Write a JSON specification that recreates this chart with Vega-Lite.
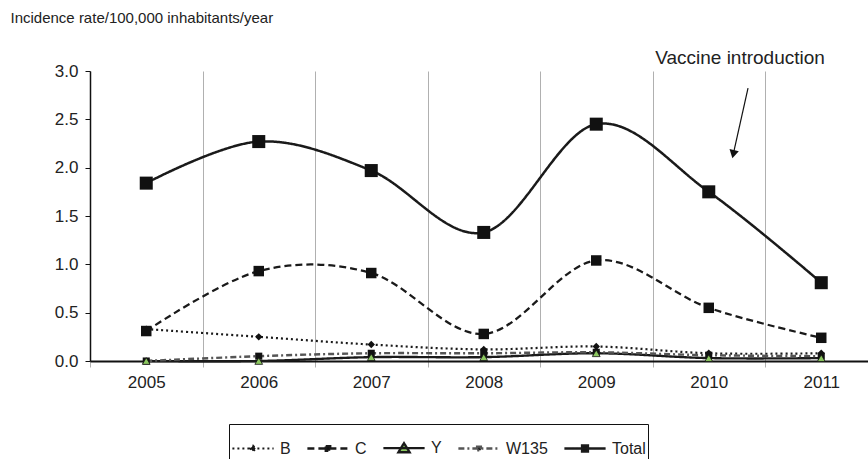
{
  "$schema": "https://vega.github.io/schema/vega-lite/v6.json",
  "width": 787.5,
  "height": 290,
  "autosize": {"type": "none"},
  "padding": {"left": 90, "top": 71, "right": 0, "bottom": 98},
  "background": "white",
  "config": {
    "view": {"stroke": null},
    "font": "Liberation Sans",
    "text": {"font": "Liberation Sans"}
  },
  "layer": [
    {
      "data": {
        "values": [
          {"year": "2005", "series": "B", "value": 0.33},
          {"year": "2006", "series": "B", "value": 0.25},
          {"year": "2007", "series": "B", "value": 0.17},
          {"year": "2008", "series": "B", "value": 0.12},
          {"year": "2009", "series": "B", "value": 0.15},
          {"year": "2010", "series": "B", "value": 0.08},
          {"year": "2011", "series": "B", "value": 0.08},
          {"year": "2005", "series": "C", "value": 0.31},
          {"year": "2006", "series": "C", "value": 0.93},
          {"year": "2007", "series": "C", "value": 0.91},
          {"year": "2008", "series": "C", "value": 0.28},
          {"year": "2009", "series": "C", "value": 1.04},
          {"year": "2010", "series": "C", "value": 0.55},
          {"year": "2011", "series": "C", "value": 0.24},
          {"year": "2005", "series": "Y", "value": 0.0},
          {"year": "2006", "series": "Y", "value": 0.0},
          {"year": "2007", "series": "Y", "value": 0.04},
          {"year": "2008", "series": "Y", "value": 0.04},
          {"year": "2009", "series": "Y", "value": 0.08},
          {"year": "2010", "series": "Y", "value": 0.03},
          {"year": "2011", "series": "Y", "value": 0.03},
          {"year": "2005", "series": "W135", "value": 0.0},
          {"year": "2006", "series": "W135", "value": 0.05},
          {"year": "2007", "series": "W135", "value": 0.08},
          {"year": "2008", "series": "W135", "value": 0.08},
          {"year": "2009", "series": "W135", "value": 0.09},
          {"year": "2010", "series": "W135", "value": 0.06},
          {"year": "2011", "series": "W135", "value": 0.05},
          {"year": "2005", "series": "Total", "value": 1.84},
          {"year": "2006", "series": "Total", "value": 2.27},
          {"year": "2007", "series": "Total", "value": 1.97},
          {"year": "2008", "series": "Total", "value": 1.33},
          {"year": "2009", "series": "Total", "value": 2.45},
          {"year": "2010", "series": "Total", "value": 1.75},
          {"year": "2011", "series": "Total", "value": 0.81}
        ]
      },
      "encoding": {
        "x": {
          "field": "year",
          "type": "ordinal",
          "scale": {"type": "band", "paddingInner": 0, "paddingOuter": 0},
          "axis": {
            "title": null,
            "labelAngle": 0,
            "tickBand": "extent",
            "grid": true,
            "gridColor": "#b0b0b0",
            "gridWidth": 1,
            "domainColor": "#111",
            "domainWidth": 2,
            "tickColor": "#b0b0b0",
            "tickSize": 6,
            "labelPadding": 7,
            "labelFontSize": 17,
            "labelColor": "#222",
            "labelFont": "Liberation Sans"
          }
        },
        "y": {
          "field": "value",
          "type": "quantitative",
          "scale": {"domain": [0, 3], "nice": false},
          "axis": {
            "values": [0, 0.5, 1, 1.5, 2, 2.5, 3],
            "format": ".1f",
            "grid": false,
            "domainColor": "#111",
            "domainWidth": 1.5,
            "tickColor": "#111",
            "tickSize": 5,
            "labelPadding": 7,
            "labelFontSize": 17,
            "labelColor": "#222",
            "labelFont": "Liberation Sans",
            "title": "Incidence rate/100,000 inhabitants/year",
            "titleAngle": 0,
            "titleAlign": "left",
            "titleBaseline": "alphabetic",
            "titleX": -80,
            "titleY": -49,
            "titleFontSize": 15,
            "titleFontWeight": "normal",
            "titleColor": "#222",
            "titleFont": "Liberation Sans"
          }
        }
      },
      "layer": [
        {
          "mark": {"type": "line", "interpolate": "cardinal"},
          "encoding": {
            "stroke": {
              "field": "series",
              "type": "nominal",
              "scale": {"domain": ["B", "C", "Y", "W135", "Total"], "range": ["#1a1a1a", "#1a1a1a", "#1a1a1a", "#555555", "#1a1a1a"]},
              "legend": {
                "title": null,
                "orient": "none",
                "direction": "horizontal",
                "legendX": 139,
                "legendY": 353,
                "symbolType": "stroke",
                "symbolSize": 1700,
                "labelFontSize": 16,
                "labelFont": "Liberation Sans",
                "labelColor": "#222",
                "labelOffset": 5,
                "columnPadding": 11,
                "padding": 2,
                "strokeColor": "#111",
                "fillColor": "white",
                "encode": {
                  "symbols": {
                    "update": {
                      "shape": {"signal": "datum.value === 'B' ? 'M-1,0H1M0,-0.13L0.13,0L0,0.13L-0.13,0Z' : datum.value === 'Y' ? 'M-1,0H1M0,-0.24L0.27,0.2H-0.27Z' : datum.value === 'W135' ? 'M-1,0H1M-0.09,-0.09H0.09V0.09H-0.09Z' : datum.value === 'C' ? 'M-1,0H1M-0.11,-0.11H0.11V0.11H-0.11Z' : 'M-1,0H1M-0.14,-0.14H0.14V0.14H-0.14Z'"},
                      "fill": {"signal": "datum.value === 'Y' ? '#8cc860' : '#111111'"},
                      "fillOpacity": {"value": 1}
                    }
                  }
                }
              }
            },
            "strokeDash": {
              "field": "series",
              "type": "nominal",
              "scale": {"domain": ["B", "C", "Y", "W135", "Total"], "range": [[2, 3], [7, 4], [1, 0], [6, 3, 2, 3], [1, 0]]}
            },
            "strokeWidth": {
              "field": "series",
              "type": "nominal",
              "scale": {"domain": ["B", "C", "Y", "W135", "Total"], "range": [2.2, 2.5, 1.2, 1, 3.2]}
            }
          }
        },
        {
          "transform": [{"filter": "datum.series === 'B'"}],
          "mark": {"type": "point", "shape": "diamond", "filled": true, "opacity": 1, "color": "#111", "size": 55}
        },
        {
          "transform": [{"filter": "datum.series === 'C'"}],
          "mark": {"type": "point", "shape": "square", "filled": true, "opacity": 1, "color": "#111", "size": 110}
        },
        {
          "transform": [{"filter": "datum.series === 'W135'"}],
          "mark": {"type": "point", "shape": "square", "filled": true, "opacity": 1, "color": "#111", "size": 50}
        },
        {
          "transform": [{"filter": "datum.series === 'Y'"}],
          "mark": {"type": "point", "shape": "triangle-up", "filled": true, "opacity": 1, "fill": "#8cc860", "stroke": "#111", "strokeWidth": 0.8, "size": 60}
        },
        {
          "transform": [{"filter": "datum.series === 'Total'"}],
          "mark": {"type": "point", "shape": "square", "filled": true, "opacity": 1, "color": "#111", "size": 170}
        }
      ]
    },
    {
      "layer": [
        {
          "data": {"values": [{"x": 5.849, "y": 2.824, "x2": 5.718, "y2": 2.14}]},
          "mark": {"type": "rule", "color": "#111", "strokeWidth": 1.2},
          "encoding": {
            "x": {"field": "x", "type": "quantitative", "scale": {"domain": [0, 7], "nice": false, "zero": false}, "axis": null},
            "y": {"field": "y", "type": "quantitative", "scale": {"domain": [0, 3], "nice": false}, "axis": null},
            "x2": {"field": "x2"},
            "y2": {"field": "y2"}
          }
        },
        {
          "data": {"values": [{"x": 5.718, "y": 2.14, "angle": 12.5}]},
          "mark": {"type": "point", "shape": "triangle-down", "filled": true, "color": "#111", "opacity": 1, "size": 90},
          "encoding": {
            "x": {"field": "x", "type": "quantitative"},
            "y": {"field": "y", "type": "quantitative"},
            "angle": {"field": "angle", "type": "quantitative", "scale": null}
          }
        },
        {
          "data": {"values": [{"x": 5.778, "y": 3.134, "label": "Vaccine introduction"}]},
          "mark": {"type": "text", "fontSize": 19, "color": "#222", "baseline": "middle", "align": "center", "font": "Liberation Sans"},
          "encoding": {
            "x": {"field": "x", "type": "quantitative"},
            "y": {"field": "y", "type": "quantitative"},
            "text": {"field": "label"}
          }
        }
      ]
    }
  ],
  "resolve": {"scale": {"x": "independent", "y": "independent"}, "axis": {"x": "independent", "y": "independent"}}
}
